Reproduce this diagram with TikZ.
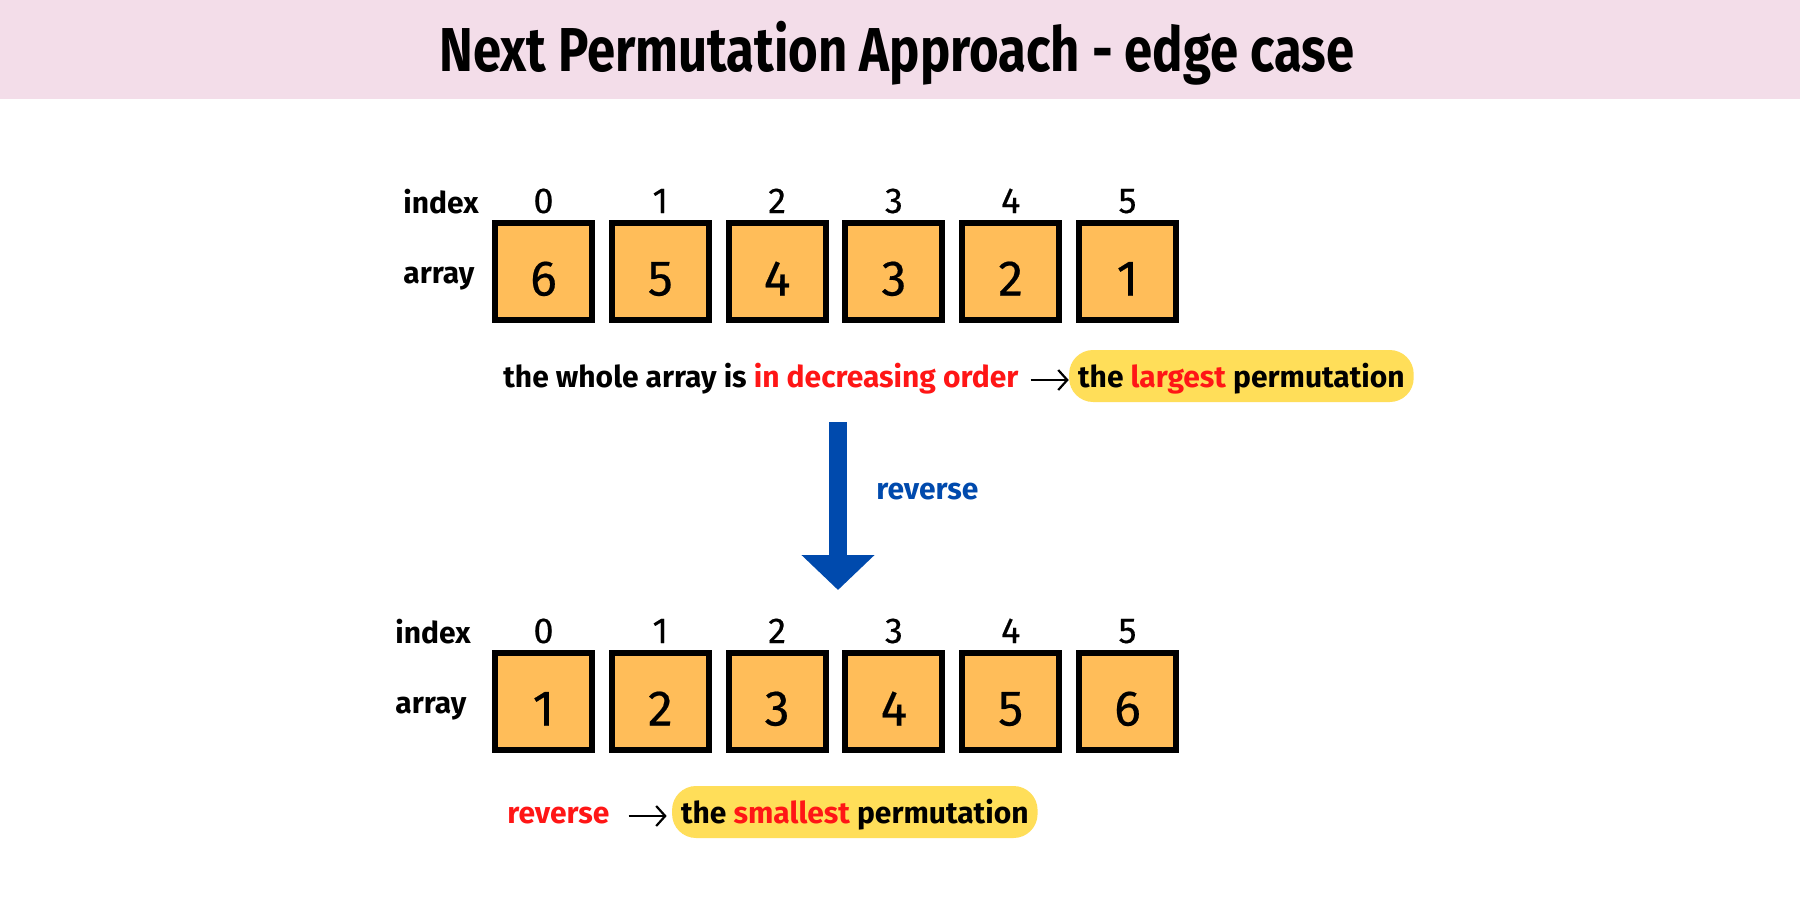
\documentclass[tikz,border=0pt]{standalone}
\usepackage{fontspec}
\setmainfont{Fira Sans}
\newfontfamily\titlefont{Fira Sans}[FakeStretch=0.82]
\newfontfamily\digitfont{Fira Sans}[FakeBold=0.4]
\usetikzlibrary{arrows.meta}
\definecolor{barpink}{HTML}{F3DDE9}
\definecolor{boxorange}{HTML}{FFBD59}
\definecolor{hlyellow}{HTML}{FFDE59}
\definecolor{txtred}{HTML}{FF1616}
\definecolor{revblue}{HTML}{004AAD}
\tikzset{
  titletext/.style={font=\titlefont\bfseries\fontsize{31}{36}\selectfont, inner sep=0pt, anchor=base},
  lbl/.style={font=\bfseries\fontsize{15}{18}\selectfont, inner sep=0pt, anchor=base west},
  idx/.style={font=\digitfont\fontsize{18}{21}\selectfont, inner sep=0pt, anchor=base},
  cell/.style={draw=black, line width=3pt, fill=boxorange, minimum width=48.5pt, minimum height=48.5pt,
    inner sep=0pt, text height=24.5pt, text depth=0pt, font=\digitfont\fontsize{25}{30}\selectfont},
  sent/.style={font=\bfseries\fontsize{15}{18}\selectfont, inner sep=0pt, anchor=base west},
  hl/.style={sent, fill=hlyellow, rounded corners=12pt, inner xsep=4.5pt, inner ysep=3pt,
    text height=15.5pt, text depth=4.5pt},
  thinarrow/.style={line width=1.1pt, -{Straight Barb[length=4.5pt,width=10pt]}},
  bigarrow/.style={revblue, line width=9pt, -{Triangle[width=35.5pt,length=17.5pt]}}
}
\begin{document}
\begin{tikzpicture}[x=0.5pt, y=-0.5pt]
\useasboundingbox (0,0) rectangle (1800,900);
\fill[white] (0,0) rectangle (1800,900);
\fill[barpink] (0,0) rectangle (1800,99);
\node[titletext] (title) at (897,71) {Next Permutation Approach - edge case};

% top array
\node[lbl] (idxA) at (403,213) {index};
\node[lbl] (arrA) at (403,283) {array};
\foreach \v [count=\i from 0] in {6,5,4,3,2,1} {
  \node[idx] (ia\i) at ({543.5+116.8*\i},213) {\i};
  \node[cell] (a\i) at ({543.5+116.8*\i},271) {\v};
}

\node[sent] (s1) at (503,387) {the whole array is \textcolor{txtred}{in decreasing order}};
\node[hl] (h1) at ([xshift=25pt]s1.base east) {the \textcolor{txtred}{largest} permutation};
\draw[thinarrow] ([xshift=6pt,yshift=3.5pt]s1.base east) -- ([yshift=3.5pt]h1.base west);

% big arrow
\coordinate (rt) at (838,422);
\coordinate (rb) at (838,590);
\draw[bigarrow] (rt) -- (rb);
\node[sent, text=revblue] (revlbl) at (876,499) {reverse};

% bottom array
\node[lbl] (idxB) at (395,643) {index};
\node[lbl] (arrB) at (395,713) {array};
\foreach \v [count=\i from 0] in {1,2,3,4,5,6} {
  \node[idx] (ib\i) at ({543.5+116.8*\i},643) {\i};
  \node[cell] (b\i) at ({543.5+116.8*\i},701) {\v};
}

\node[sent, text=txtred] (r2) at (507,823) {reverse};
\node[hl] (h2) at ([xshift=31pt]r2.base east) {the \textcolor{txtred}{smallest} permutation};
\draw[thinarrow] ([xshift=9.5pt,yshift=3.5pt]r2.base east) -- ([xshift=-2.5pt,yshift=3.5pt]h2.base west);
\end{tikzpicture}
\end{document}
